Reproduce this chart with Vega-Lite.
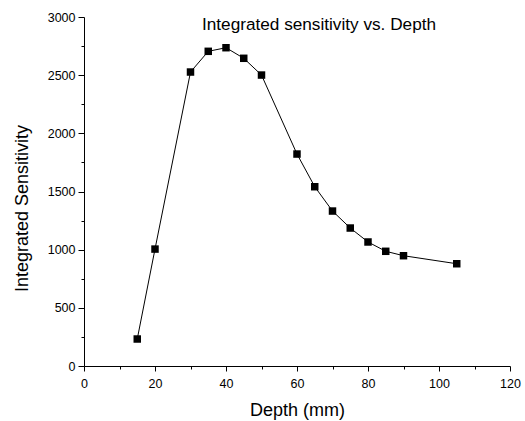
{
  "$schema": "https://vega.github.io/schema/vega-lite/v6.json",
  "width": 426,
  "height": 349,
  "autosize": "none",
  "padding": {"left": 84, "top": 17, "right": 15, "bottom": 55},
  "background": "white",
  "config": {
    "font": "Liberation Sans",
    "view": {"stroke": null},
    "axis": {
      "grid": false,
      "domainColor": "black",
      "tickColor": "black",
      "labelColor": "black",
      "titleColor": "black",
      "labelFont": "Liberation Sans",
      "titleFont": "Liberation Sans",
      "labelFontSize": 12.5,
      "titleFontSize": 18,
      "titleFontWeight": "normal",
      "domainWidth": 1,
      "tickWidth": 1
    }
  },
  "title": {
    "text": "Integrated sensitivity vs. Depth",
    "frame": "group",
    "anchor": "middle",
    "orient": "top",
    "offset": 0,
    "baseline": "alphabetic",
    "dx": 22,
    "dy": 36,
    "fontSize": 17.2,
    "fontWeight": "normal",
    "font": "Liberation Sans",
    "color": "black"
  },
  "data": {
    "values": [
      {"depth": 15, "sens": 232},
      {"depth": 20, "sens": 1005},
      {"depth": 30, "sens": 2527},
      {"depth": 35, "sens": 2705},
      {"depth": 40, "sens": 2736},
      {"depth": 45, "sens": 2645},
      {"depth": 50, "sens": 2501},
      {"depth": 60, "sens": 1822},
      {"depth": 65, "sens": 1541},
      {"depth": 70, "sens": 1332},
      {"depth": 75, "sens": 1186},
      {"depth": 80, "sens": 1066},
      {"depth": 85, "sens": 986},
      {"depth": 90, "sens": 948},
      {"depth": 105, "sens": 879}
    ]
  },
  "layer": [
    {
      "mark": {"type": "line", "color": "black", "strokeWidth": 1},
      "encoding": {
        "x": {
          "field": "depth", "type": "quantitative",
          "scale": {"domain": [0, 120], "nice": false, "zero": false},
          "axis": {
            "orient": "bottom",
            "title": "Depth (mm)",
            "format": "d",
            "values": [0, 20, 40, 60, 80, 100, 120],
            "tickSize": 5,
            "labelPadding": 6,
            "labelFlush": false,
            "labelOverlap": false,
            "titleBaseline": "alphabetic",
            "titleY": 49
          }
        },
        "y": {
          "field": "sens", "type": "quantitative",
          "scale": {"domain": [0, 3000], "nice": false},
          "axis": {
            "orient": "left",
            "title": "Integrated Sensitivity",
            "format": "d",
            "values": [0, 500, 1000, 1500, 2000, 2500, 3000],
            "tickSize": 6,
            "labelPadding": 3,
            "labelFlush": false,
            "labelOverlap": false,
            "titleBaseline": "alphabetic",
            "titleAngle": -90,
            "titleX": -57,
            "titleY": 191
          }
        }
      }
    },
    {
      "mark": {"type": "point", "shape": "square", "filled": true, "color": "black", "size": 56, "opacity": 1},
      "encoding": {
        "x": {
          "field": "depth", "type": "quantitative",
          "axis": {
            "orient": "bottom",
            "title": null,
            "values": [10, 30, 50, 70, 90, 110],
            "labels": false,
            "domain": false,
            "ticks": true,
            "tickSize": 3
          }
        },
        "y": {
          "field": "sens", "type": "quantitative",
          "axis": {
            "orient": "left",
            "title": null,
            "values": [250, 750, 1250, 1750, 2250, 2750],
            "labels": false,
            "domain": false,
            "ticks": true,
            "tickSize": 3
          }
        }
      }
    }
  ],
  "resolve": {"axis": {"x": "independent", "y": "independent"}}
}
